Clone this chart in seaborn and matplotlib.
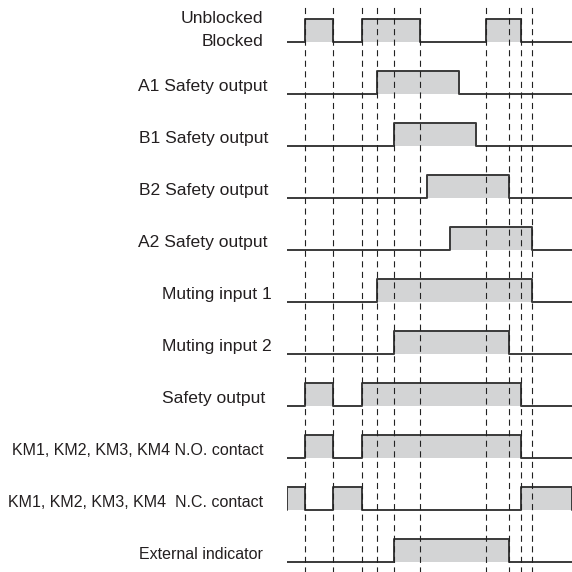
import matplotlib
matplotlib.use("Agg")
import matplotlib.pyplot as plt
import numpy as np
import pandas as pd
import seaborn as sns

# timing diagram for muting sequence (time in arbitrary units, 0..100)
signals = [
    "Unblocked\nBlocked",
    "A1 Safety output",
    "B1 Safety output",
    "B2 Safety output",
    "A2 Safety output",
    "Muting input 1",
    "Muting input 2",
    "Safety output",
    "KM1, KM2, KM3, KM4 N.O. contact",
    "KM1, KM2, KM3, KM4  N.C. contact",
    "External indicator",
]

# on/off intervals for each signal
curtain = [(6.3, 16.2), (26.4, 46.6), (69.8, 82.0)]
a1_out = [(31.5, 60.4)]
b1_out = [(37.6, 66.2)]
b2_out = [(49.2, 77.9)]
a2_out = [(57.3, 86.0)]
muting1 = [(31.5, 86.0)]
muting2 = [(37.6, 77.9)]
safety = [(6.3, 16.2), (26.4, 82.0)]
km_no = [(6.3, 16.2), (26.4, 82.0)]
km_nc = [(0.0, 6.3), (16.2, 26.4), (82.0, 100.0)]
ext_ind = [(37.6, 77.9)]

intervals = [curtain, a1_out, b1_out, b2_out, a2_out, muting1, muting2,
             safety, km_no, km_nc, ext_ind]

# event times (dashed guides)
events = [6.3, 16.2, 26.4, 31.5, 37.6, 46.6, 69.8, 77.9, 82.0, 86.0]

T_END = 100.0
H = 0.44          # pulse height in row units
EDGE = "#3a3a3a"
FILL = "#d3d4d5"
TXT = "#231f20"

# label styling: font size and right edge (in time units, left of t=0)
lab_size = [12.6, 12.6, 12.6, 12.6, 12.6, 12.6, 12.6, 12.6, 11.5, 11.5, 11.5]
lab_x = [-8.4, -6.7, -6.7, -6.7, -6.7, -5.3, -5.3, -7.7, -8.4, -8.4, -8.4]

# build waveform polylines
rows = []
for i, ivs in enumerate(intervals):
    pts = [(0.0, 0)]
    for on, off in ivs:
        pts += [(on, 0), (on, 1), (off, 1), (off, 0)]
    pts.append((T_END, 0))
    for t, lv in pts:
        rows.append({"signal": i, "t": t, "y": i - H * lv})
wave = pd.DataFrame(rows)

sns.set_theme(style="white")
plt.rcParams["font.family"] = ["Liberation Sans", "DejaVu Sans"]

fig = plt.figure(figsize=(5.72, 5.72), dpi=100)
ax = fig.add_axes([287 / 572, 0, 285 / 572, 1])

for i, ivs in enumerate(intervals):
    for on, off in ivs:
        ax.fill_between([on, off], i, i - H, color=FILL, lw=0, zorder=1)

sns.lineplot(data=wave, x="t", y="y", units="signal", estimator=None,
             sort=False, color=EDGE, lw=1.4, ax=ax, legend=False, zorder=2)

ax.vlines(events, 10.3, -0.73, colors="#222222", lw=0.8,
          linestyles=(0, (5.5, 4)), zorder=3)

for i, name in enumerate(signals):
    kw = dict(ha="right", va="center", fontsize=lab_size[i], color=TXT,
              clip_on=False)
    if i == 0:
        top, bottom = name.split("\n")
        ax.text(lab_x[i], i - H, top, **kw)
        ax.text(lab_x[i], i, bottom, **kw)
    else:
        ax.text(lab_x[i], i - 0.145, name, **kw)

ax.set_xlim(0, T_END)
ax.set_ylim(10.198, -0.802)
ax.set_axis_off()

fig.savefig("out.png", dpi=100)
